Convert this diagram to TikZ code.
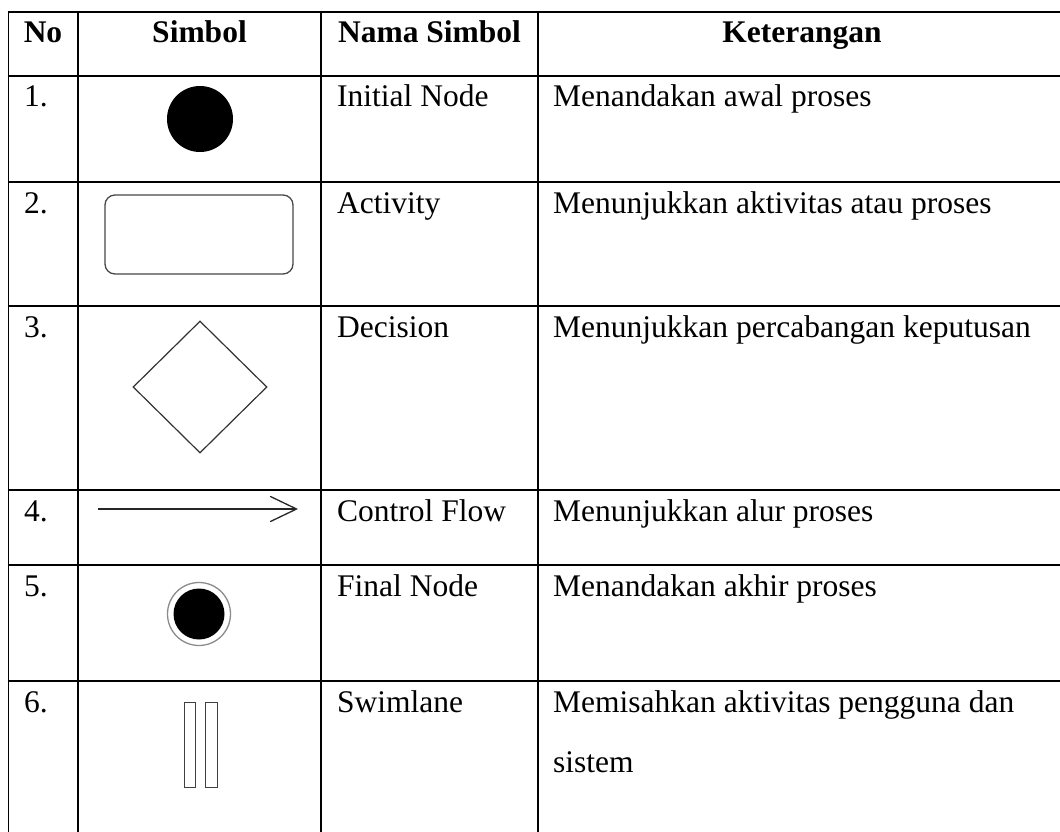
\documentclass[tikz,border=0pt]{standalone}
\usepackage{fontspec}
\setmainfont{Liberation Serif}
\usetikzlibrary{shapes.geometric,arrows.meta}
\begin{document}
\begin{tikzpicture}[x=1pt,y=-1pt,
  grid/.style={line width=1.8pt, draw=black},
  hdr/.style={font=\fontsize{31.5}{38}\selectfont\bfseries, anchor=base, inner sep=0pt},
  cell/.style={font=\fontsize{31.5}{38}\selectfont, anchor=base west, inner sep=0pt},
  symstroke/.style={draw=black!72, line width=1.3pt}]
\clip (0,0) rectangle (1060,832);
\fill[white] (0,0) rectangle (1060,832);
% grid lines
\foreach \y in {12,76,182,306,490,565,681} \draw[grid] (7.6,\y) -- (1075,\y);
\foreach \x in {8.5,78,321,538} \draw[grid] (\x,11.1) -- (\x,845);
% header
\node[hdr] (hNo) at (43,43) {No};
\node[hdr] (hSim) at (199.5,43) {Simbol};
\node[hdr] (hNama) at (429.5,43) {Nama Simbol};
\node[hdr] (hKet) at (802,43) {Keterangan};
% row 1
\node[cell] (no1) at (24,107) {1.};
\node[cell] (nm1) at (337,107) {Initial Node};
\node[cell] (kt1) at (553,107) {Menandakan awal proses};
\node[circle, fill=black, minimum size=66pt, inner sep=0pt] (init) at (200,119) {};
% row 2
\node[cell] (no2) at (24,213) {2.};
\node[cell] (nm2) at (337,213) {Activity};
\node[cell] (kt2) at (553,213) {Menunjukkan aktivitas atau proses};
\node[symstroke, rounded corners=10pt, minimum width=188pt, minimum height=79pt, inner sep=0pt] (act) at (199,234.5) {};
% row 3
\node[cell] (no3) at (24,337) {3.};
\node[cell] (nm3) at (337,337) {Decision};
\node[cell] (kt3) at (553,337) {Menunjukkan percabangan keputusan};
\node[diamond, draw=black!80, line width=1.2pt, minimum width=134pt, minimum height=132pt, inner sep=0pt] (dec) at (200,387) {};
% row 4
\node[cell] (no4) at (24,521) {4.};
\node[cell] (nm4) at (337,521) {Control Flow};
\node[cell] (kt4) at (553,521) {Menunjukkan alur proses};
\coordinate (a0) at (98,509);
\coordinate (a1) at (298,509);
\draw[line width=1.3pt, draw=black!85, -{Straight Barb[length=26pt, width=25pt, line cap=round]}] (a0) -- (a1);
% row 5
\node[cell] (no5) at (24,596) {5.};
\node[cell] (nm5) at (337,596) {Final Node};
\node[cell] (kt5) at (553,596) {Menandakan akhir proses};
\node[circle, draw=black!45, line width=1.3pt, minimum size=63pt, inner sep=0pt] (fin) at (199,614) {};
\node[circle, fill=black, minimum size=51pt, inner sep=0pt] (finin) at (fin.center) {};
% row 6
\node[cell] (no6) at (24,712) {6.};
\node[cell] (nm6) at (337,712) {Swimlane};
\node[cell] (kt6a) at (553,712) {Memisahkan aktivitas pengguna dan};
\node[cell] (kt6b) at (553,772) {sistem};
\node[draw=black!75, line width=1pt, minimum width=11pt, minimum height=85pt, inner sep=0pt] (sw1) at (189.5,744.5) {};
\node[draw=black!75, line width=1pt, minimum width=12pt, minimum height=85pt, inner sep=0pt] (sw2) at (211,744.5) {};
\end{tikzpicture}
\end{document}
